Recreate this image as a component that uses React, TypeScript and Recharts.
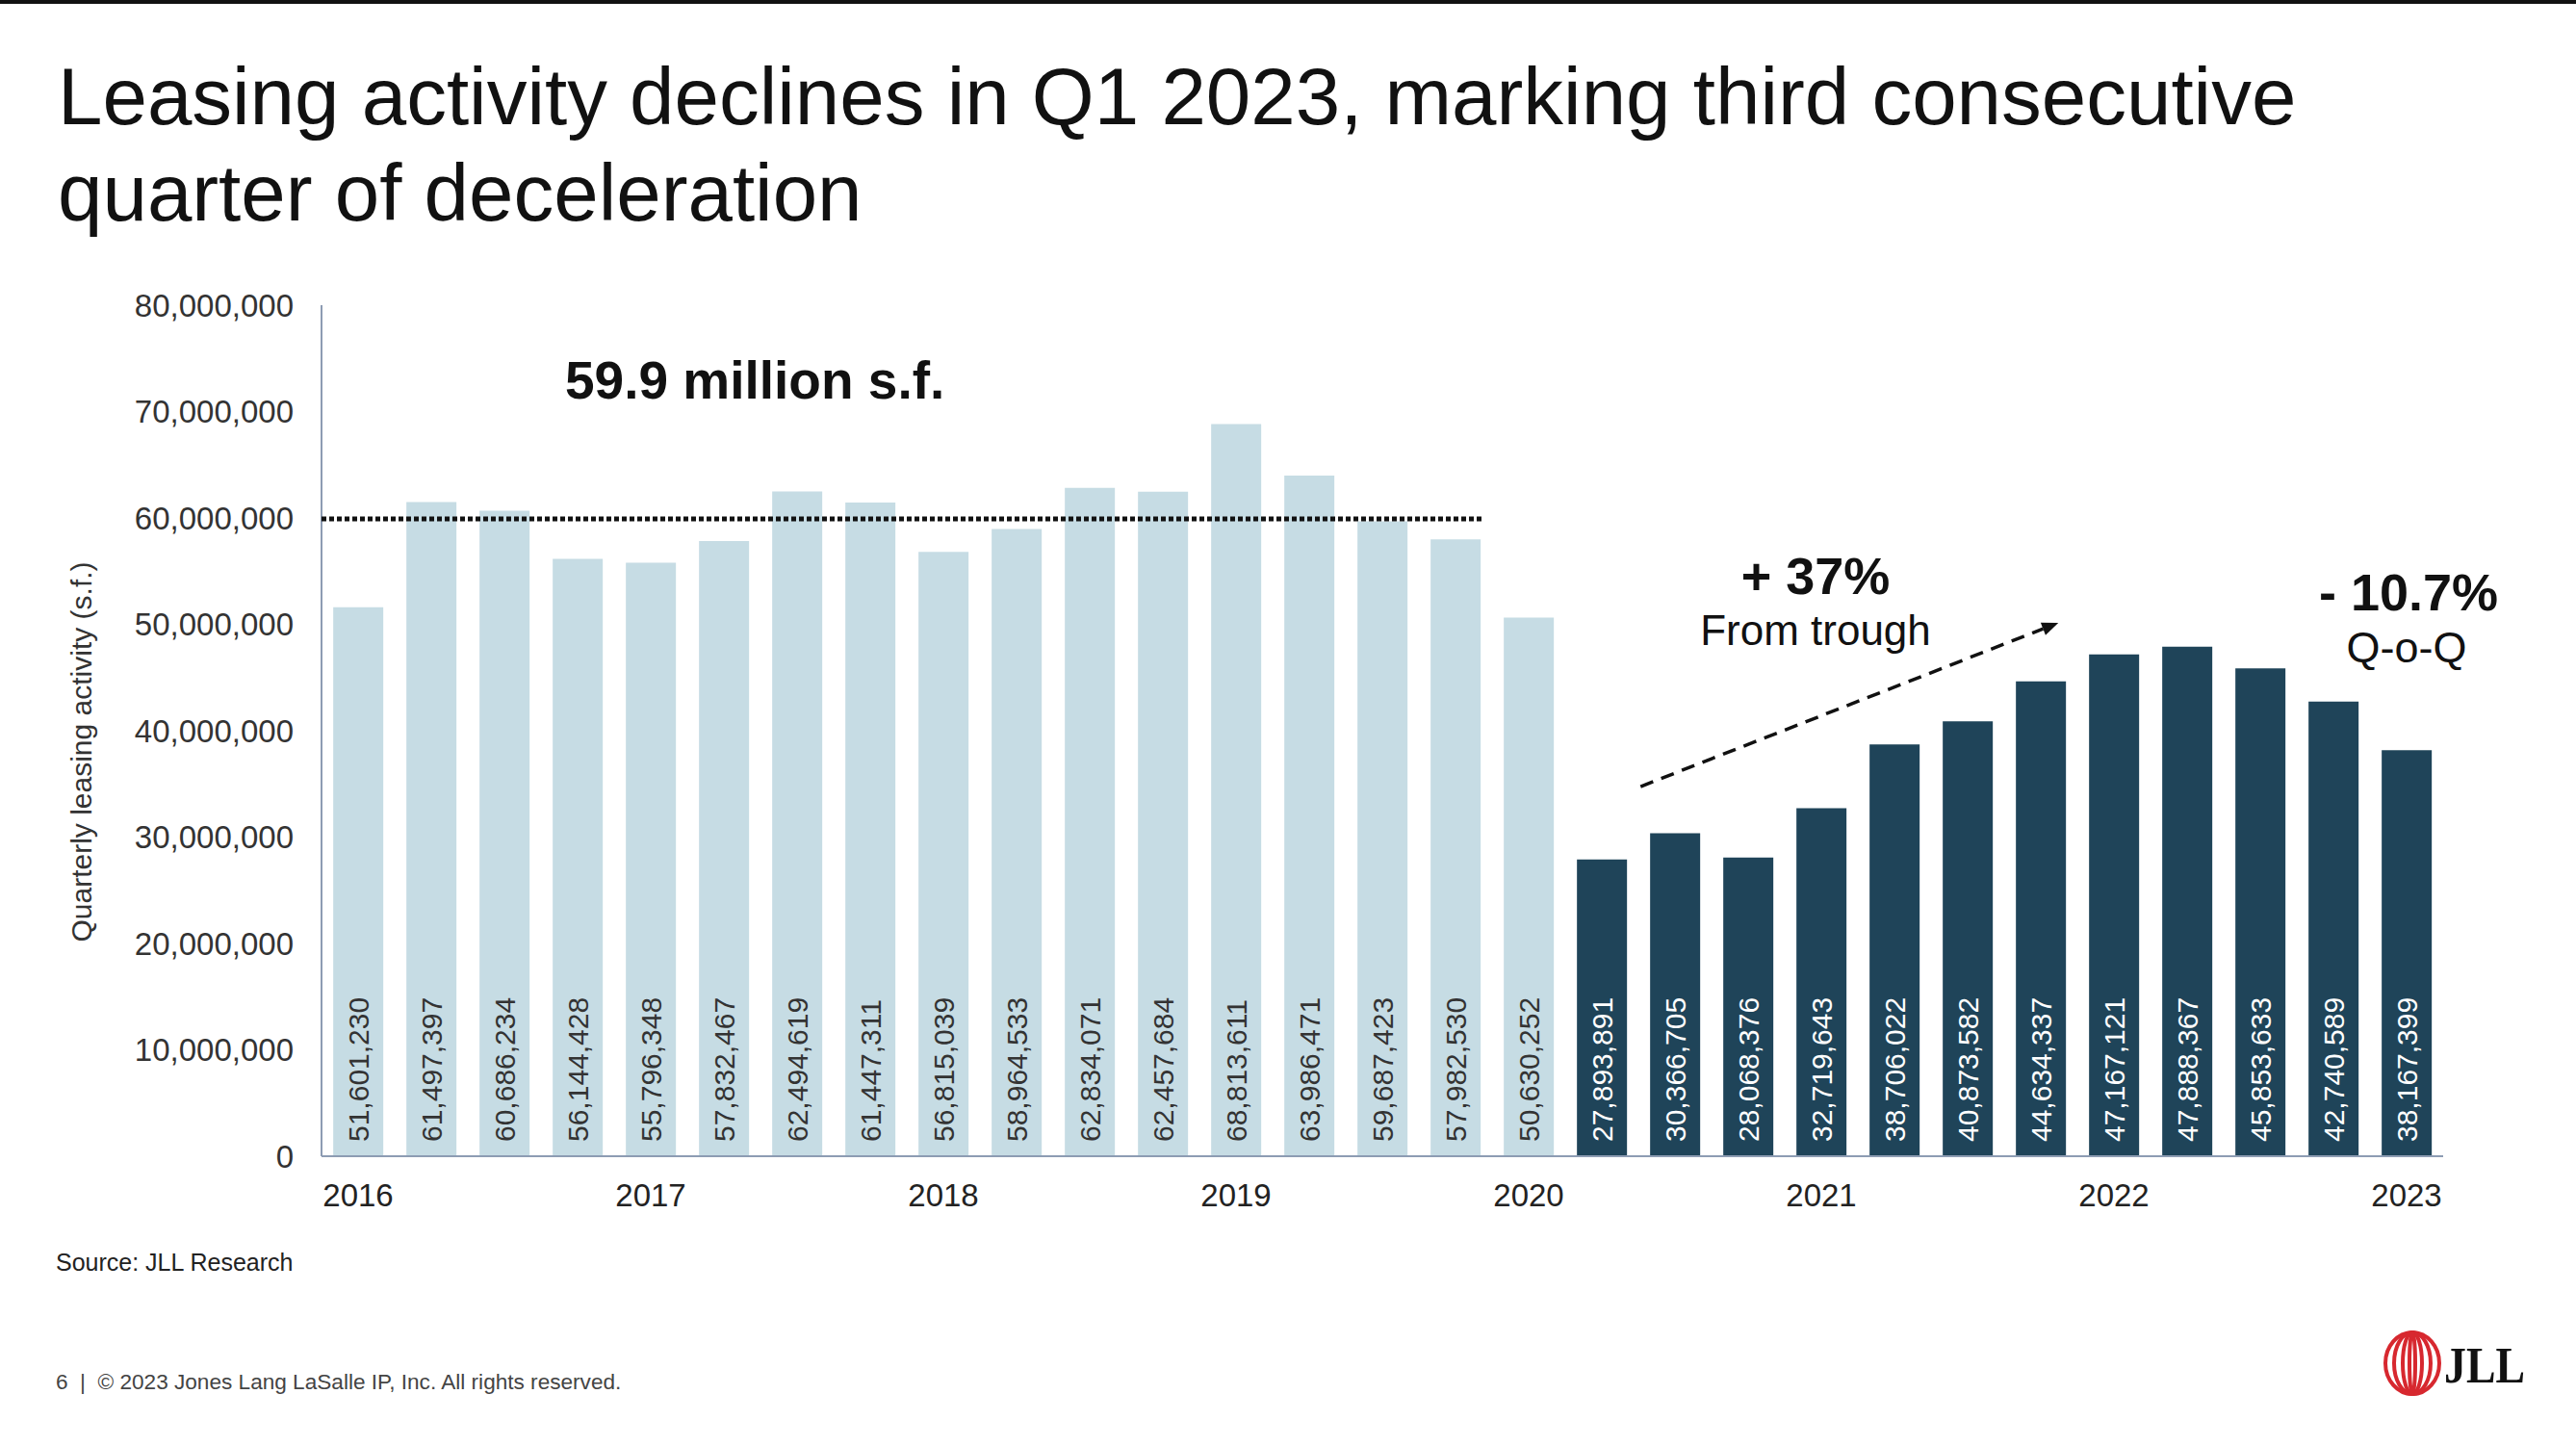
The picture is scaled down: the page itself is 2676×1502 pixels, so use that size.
import React from 'react';
import { BarChart, Bar, XAxis, YAxis, Cell, LabelList, ReferenceLine, ScatterChart } from 'recharts';

// quarterly leasing activity, square feet
const quarters = [
    '2016 Q1', '2016 Q2', '2016 Q3', '2016 Q4',
    '2017 Q1', '2017 Q2', '2017 Q3', '2017 Q4',
    '2018 Q1', '2018 Q2', '2018 Q3', '2018 Q4',
    '2019 Q1', '2019 Q2', '2019 Q3', '2019 Q4',
    '2020 Q1', '2020 Q2', '2020 Q3', '2020 Q4',
    '2021 Q1', '2021 Q2', '2021 Q3', '2021 Q4',
    '2022 Q1', '2022 Q2', '2022 Q3', '2022 Q4',
    '2023 Q1'
];

const leasingSf = [
    51601230, 61497397, 60686234, 56144428,
    55796348, 57832467, 62494619, 61447311,
    56815039, 58964533, 62834071, 62457684,
    68813611, 63986471, 59687423, 57982530,
    50630252, 27893891, 30366705, 28068376,
    32719643, 38706022, 40873582, 44634337,
    47167121, 47888367, 45853633, 42740589,
    38167399
];

// first 17 quarters (through 2020 Q1) are pre-pandemic
const prePandemicCount = 17;

const yTicks = [0, 10000000, 20000000, 30000000, 40000000, 50000000, 60000000, 70000000, 80000000];

// pre-pandemic average, spanning 2016 Q1 – 2019 Q4 (band index units)
const avgLevel = 59900000;
const avgSpan = [0, 15.87];

// recovery trend arrow (band index, sf)
const trendStart = [18.03, 34750000];
const trendEnd = [23.74, 50140000];

const LIGHT = '#c6dce4';
const DARK = '#1f4459';
const AXIS = '#8d9cb3';
const FONT = '"Liberation Sans", Arial, Helvetica, sans-serif';

const CHART_W = 2676;
const CHART_H = 1300;
const MARGIN = { top: 317, right: 138, left: 0, bottom: 0 };
const Y_AXIS_W = 334;
const X_AXIS_H = 99;

const nf = new Intl.NumberFormat('en-US');

const data = quarters.map((q, i) => ({ quarter: q, sf: leasingSf[i] }));

const BarValue = (props: any) => {
    const { x, y, width, height, value } = props;
    if (value == null) return null;
    const idx = props.index != null ? props.index : leasingSf.indexOf(value);
    const cx = x + width / 2;
    const by = y + height - 15;
    return (
        <text
            x={cx}
            y={by}
            transform={`rotate(-90, ${cx}, ${by})`}
            textAnchor="start"
            dominantBaseline="central"
            fontSize={30}
            fontFamily={FONT}
            fill={idx < prePandemicCount ? '#333333' : '#ffffff'}
        >
            {nf.format(value)}
        </text>
    );
};

const TrendArrow = (p: any) => {
    const { x1, y1, x2, y2 } = p;
    const ang = Math.atan2(y2 - y1, x2 - x1);
    const len = 17;
    const half = 7;
    const bx = x2 - len * Math.cos(ang);
    const by = y2 - len * Math.sin(ang);
    const pts = `${x2},${y2} ${bx + half * Math.sin(ang)},${by - half * Math.cos(ang)} ${bx - half * Math.sin(ang)},${by + half * Math.cos(ang)}`;
    return (
        <g>
            <line x1={x1} y1={y1} x2={bx} y2={by} stroke="#111" strokeWidth={3.5} strokeDasharray="14 9" />
            <polygon points={pts} fill="#111" />
        </g>
    );
};

export default function App() {
    return (
        <div style={{ position: 'absolute', left: 0, top: 0, width: 2676, height: 1502, background: '#fff', overflow: 'hidden', fontFamily: FONT }}>
            <div style={{ position: 'absolute', left: 0, top: 0 }}>
                <BarChart
                    width={CHART_W}
                    height={CHART_H}
                    data={data}
                    margin={MARGIN}
                    barCategoryGap="16%"
                >
                    <XAxis
                        dataKey="quarter"
                        interval={3}
                        tickFormatter={(v: string) => v.slice(0, 4)}
                        height={X_AXIS_H}
                        axisLine={{ stroke: AXIS, strokeWidth: 2 }}
                        tickLine={false}
                        tickSize={6}
                        tickMargin={23}
                        tick={{ fill: '#222', fontSize: 33, fontFamily: FONT }}
                    />
                    <YAxis
                        width={Y_AXIS_W}
                        domain={[0, 80000000]}
                        ticks={yTicks}
                        tickFormatter={(v: number) => nf.format(v)}
                        axisLine={{ stroke: AXIS, strokeWidth: 2 }}
                        tickLine={false}
                        tickSize={6}
                        tickMargin={23}
                        tick={{ fill: '#333', fontSize: 33, fontFamily: FONT }}
                    />
                    <Bar dataKey="sf" isAnimationActive={false}>
                        {data.map((d, i) => (
                            <Cell key={d.quarter} fill={i < prePandemicCount ? LIGHT : DARK} />
                        ))}
                        <LabelList dataKey="sf" content={BarValue} />
                    </Bar>
                </BarChart>
            </div>

            {/* annotation layer: same plot box, numeric band-index x scale */}
            <div style={{ position: 'absolute', left: 0, top: 0, pointerEvents: 'none' }}>
                <ScatterChart
                    width={CHART_W}
                    height={CHART_H}
                    margin={{ top: MARGIN.top, right: MARGIN.right, left: MARGIN.left + Y_AXIS_W, bottom: MARGIN.bottom + X_AXIS_H }}
                >
                    <XAxis type="number" dataKey="x" domain={[0, quarters.length]} allowDataOverflow hide />
                    <YAxis type="number" dataKey="y" domain={[0, 80000000]} allowDataOverflow hide />
                    <ReferenceLine
                        segment={[{ x: avgSpan[0], y: avgLevel }, { x: avgSpan[1], y: avgLevel }]}
                        stroke="#111"
                        strokeWidth={5}
                        strokeDasharray="5 3"
                        ifOverflow="visible"
                    />
                    <ReferenceLine
                        segment={[{ x: trendStart[0], y: trendStart[1] }, { x: trendEnd[0], y: trendEnd[1] }]}
                        shape={TrendArrow}
                        ifOverflow="visible"
                    />
                </ScatterChart>
            </div>

            <svg width={2676} height={1502} style={{ position: 'absolute', left: 0, top: 0, pointerEvents: 'none' }} fontFamily={FONT}>
                <rect x={0} y={0} width={2676} height={4} fill="#111" />
                <text x={60} y={129} fontSize={83.5} fill="#111">Leasing activity declines in Q1 2023, marking third consecutive</text>
                <text x={60} y={229} fontSize={83.5} fill="#111">quarter of deceleration</text>

                <text x={84} y={781} fontSize={30} fill="#333" textAnchor="middle" dominantBaseline="central" transform="rotate(-90, 84, 781)">
                    Quarterly leasing activity (s.f.)
                </text>

                <text x={587} y={414} fontSize={55} fontWeight="bold" fill="#111">59.9 million s.f.</text>
                <text x={1886} y={617} fontSize={54} fontWeight="bold" fill="#111" textAnchor="middle">+ 37%</text>
                <text x={1886} y={670} fontSize={44} fill="#111" textAnchor="middle">From trough</text>
                <text x={2502} y={634} fontSize={54} fontWeight="bold" fill="#111" textAnchor="middle">- 10.7%</text>
                <text x={2500} y={688} fontSize={45} fill="#111" textAnchor="middle">Q-o-Q</text>

                <text x={58} y={1320} fontSize={25} fill="#222">Source: JLL Research</text>
                <text x={58} y={1443} fontSize={22.6} fill="#444">{'6 \u00a0|\u00a0 © 2023 Jones Lang LaSalle IP, Inc. All rights reserved.'}</text>

                <g fill="none" stroke="#d7282f" strokeWidth={4}>
                    <ellipse cx={2506} cy={1416} rx={28} ry={32} />
                    <ellipse cx={2506} cy={1416} rx={19} ry={32} />
                    <ellipse cx={2506} cy={1416} rx={10} ry={32} />
                    <ellipse cx={2506} cy={1416} rx={3} ry={32} />
                </g>
                <text x={2539} y={1436} fontSize={52} fontWeight="bold" fill="#111" fontFamily='"Liberation Serif", "Times New Roman", serif' textLength={84} lengthAdjust="spacingAndGlyphs">JLL</text>
            </svg>
        </div>
    );
}
